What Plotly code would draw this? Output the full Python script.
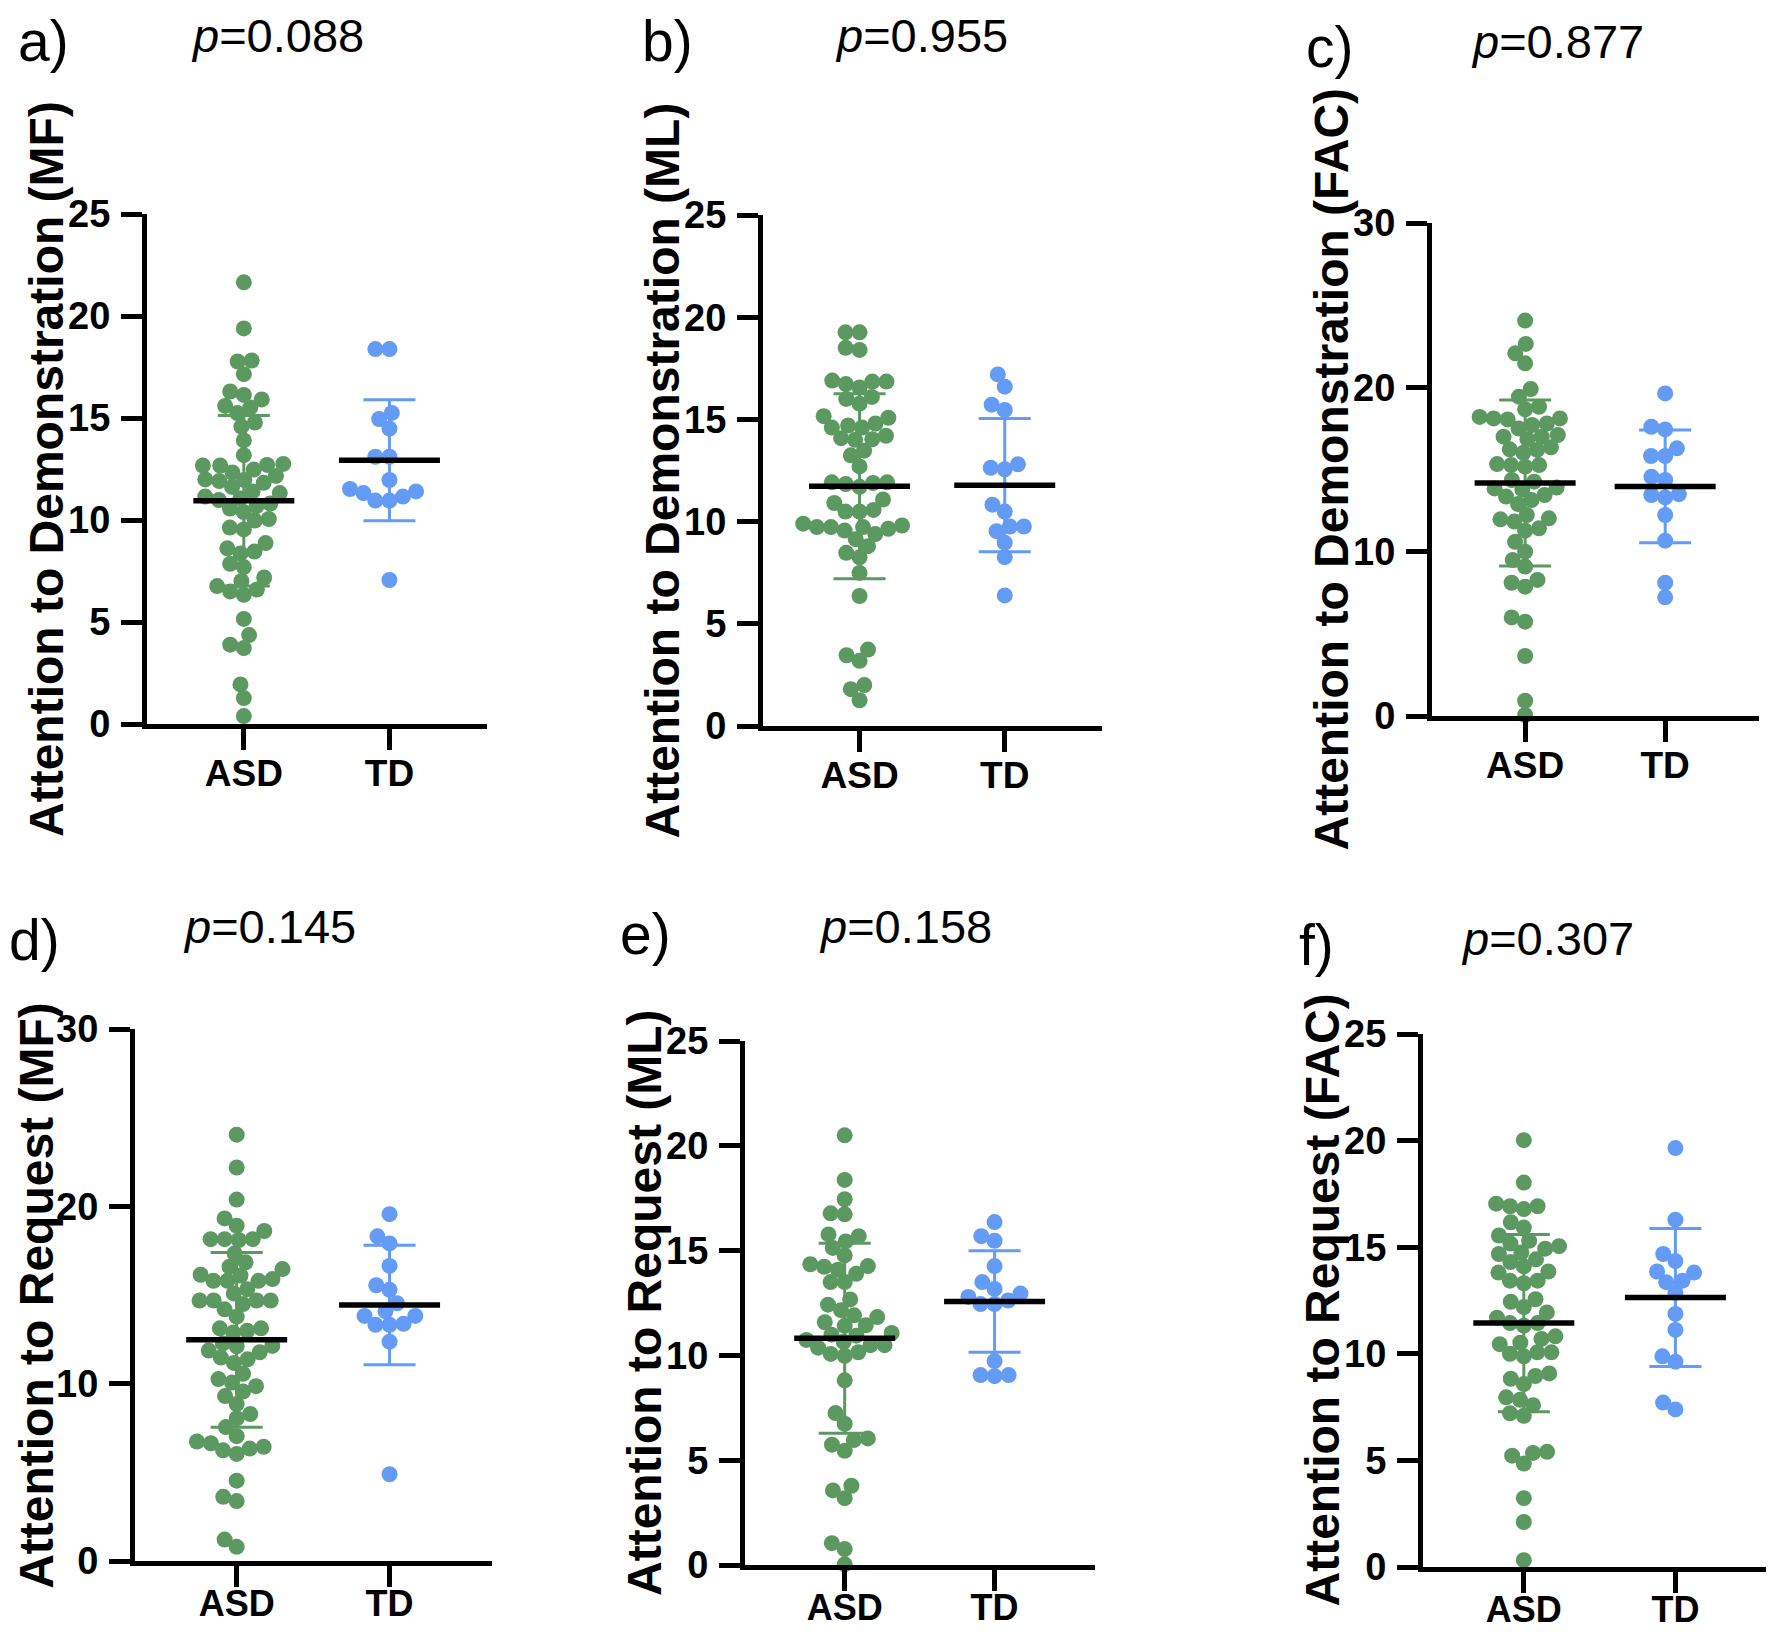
import math
import plotly.graph_objects as go

# ---------------- data ----------------
groups = ["ASD", "TD"]

a_ASD = [21.65, 19.39, 17.82, 17.77, 17.15, 16.3, 16.13, 15.91, 15.59, 15.51, 15.24, 14.78, 14.58,
         13.9, 13.18, 12.75, 12.67, 12.7, 12.67, 12.47, 12.33, 12.16, 11.96, 11.91, 11.99, 11.82,
         11.62, 11.4, 11.32, 11.15, 11.06, 10.98, 10.81, 10.68, 10.56, 10.39, 10.05, 9.97, 9.63,
         9.54, 8.87, 8.61, 8.45, 8.36, 7.85, 7.69, 7.18, 7.01, 6.76, 6.59, 6.5, 6.33, 5.15, 4.36,
         3.89, 3.72, 1.94, 1.27, 0.39]
a_TD = [18.38, 18.38, 15.25, 14.95, 14.48, 13.1, 13.1, 11.96, 11.52, 11.32, 11.4, 11.15, 10.95,
        10.95, 7.06]

b_ASD = [19.26, 19.26, 18.5, 18.4, 16.9, 16.85, 16.73, 16.85, 16.56, 16.1, 16.0, 15.77, 15.16,
         15.08, 14.8, 14.7, 14.6, 14.2, 14.6, 14.03, 14.0, 14.08, 13.47, 13.24, 12.7, 11.92, 11.89,
         11.84, 11.92, 11.7, 11.08, 10.91, 10.57, 10.49, 10.49, 9.73, 9.65, 9.9, 9.73, 9.56, 9.73,
         9.81, 9.14, 9.39, 8.8, 8.47, 8.25, 7.49, 6.36, 3.74, 3.46, 3.19, 2.0, 1.8, 1.26]
b_TD = [17.2, 16.6, 15.72, 15.46, 12.63, 12.56, 12.8, 10.83, 10.49, 9.76, 9.76, 9.53, 8.97, 8.26,
        6.39]

c_ASD = [24.06, 22.64, 22.07, 21.46, 19.9, 19.43, 18.82, 18.66, 18.11, 17.71, 18.05, 18.11, 18.2,
         17.8, 17.5, 17.1, 17.0, 16.84, 17.0, 16.35, 16.23, 16.19, 16.02, 15.33, 15.27, 15.17,
         15.27, 14.36, 14.26, 13.85, 13.79, 13.9, 13.45, 13.35, 13.14, 12.9, 12.23, 12.03, 11.97,
         11.83, 11.42, 11.28, 10.6, 10.0, 9.49, 9.09, 8.28, 8.11, 7.87, 6.0, 5.74, 3.65, 0.93, 0.06]
c_TD = [19.63, 17.6, 17.44, 16.29, 15.82, 15.82, 14.56, 14.36, 13.3, 13.45, 13.5, 12.23, 10.67,
        8.11, 7.22]

d_ASD = [24.04, 22.19, 20.38, 19.32, 18.91, 18.61, 18.15, 18.15, 18.15, 18.1, 17.34, 16.84, 16.6,
         16.46, 15.9, 15.8, 16.1, 16.14, 15.8, 15.8, 15.33, 15.09, 14.69, 14.69, 14.69, 14.49,
         14.69, 14.19, 13.78, 13.12, 13.12, 12.88, 12.98, 12.27, 12.11, 12.13, 11.87, 11.77, 11.47,
         11.37, 11.17, 10.56, 10.26, 10.06, 9.86, 9.56, 9.3, 8.85, 8.29, 8.05, 7.55, 7.04, 6.74,
         6.64, 6.44, 6.34, 6.24, 6.04, 4.53, 3.62, 3.38, 1.21, 0.8]
d_TD = [19.56, 18.31, 17.91, 16.64, 15.55, 15.29, 14.53, 14.08, 13.82, 13.82, 13.38, 13.32, 13.32,
        12.37, 4.89]

e_ASD = [20.5, 18.37, 17.45, 16.73, 16.78, 15.77, 15.69, 15.44, 15.13, 14.77, 14.26, 14.35, 14.23,
         14.09, 13.89, 13.5, 13.5, 12.67, 12.42, 12.16, 11.83, 11.91, 11.58, 11.41, 11.44, 10.94,
         10.74, 11.07, 10.99, 10.65, 10.49, 10.49, 10.37, 10.15, 10.07, 9.98, 8.81, 7.25, 6.74,
         6.04, 5.96, 5.74, 5.45, 3.78, 3.56, 3.19, 1.04, 0.76, 0.03]
e_TD = [16.36, 15.69, 15.47, 14.26, 13.5, 13.17, 12.95, 12.79, 12.45, 12.45, 12.62, 9.73, 9.06,
        9.06, 9.01]

f_ASD = [20.02, 18.03, 17.04, 16.92, 16.79, 16.92, 16.17, 15.92, 15.55, 15.3, 15.17, 15.05, 14.93,
         14.68, 14.75, 14.43, 14.3, 14.1, 13.86, 13.81, 13.43, 13.31, 13.43, 12.56, 12.44, 12.19,
         11.94, 11.69, 11.44, 11.44, 11.32, 10.82, 10.7, 10.52, 10.45, 10.07, 10.0, 9.88, 10.07,
         9.08, 8.96, 8.83, 8.58, 7.96, 7.84, 7.59, 7.21, 7.09, 5.22, 4.85, 5.35, 5.4, 3.23, 2.11,
         0.32]
f_TD = [19.65, 16.29, 14.68, 14.35, 13.86, 13.81, 13.43, 13.36, 12.86, 11.87, 11.12, 9.88, 9.63,
        7.71, 7.39]

# group mean and SD shown by the bars [ASD, TD]
a_mean = [10.94, 12.93]; a_sd = [4.18, 2.97]
b_mean = [11.73, 11.78]; b_sd = [4.53, 3.26]
c_mean = [14.18, 13.97]; c_sd = [5.05, 3.43]
d_mean = [12.47, 14.44]; d_sd = [4.93, 3.37]
e_mean = [10.82, 12.57]; e_sd = [4.53, 2.42]
f_mean = [11.44, 12.64]; f_sd = [4.16, 3.24]

panel_letters = ["a)", "b)", "c)", "d)", "e)", "f)"]
p_values = ["0.088", "0.955", "0.877", "0.145", "0.158", "0.307"]
y_titles = ["Attention to Demonstration (MF)", "Attention to Demonstration (ML)",
            "Attention to Demonstration (FAC)", "Attention to Request (MF)",
            "Attention to Request (ML)", "Attention to Request (FAC)"]
y_max = [25, 25, 30, 30, 25, 25]
y_step = [5, 5, 10, 10, 5, 5]

datasets = [(a_ASD, a_TD, a_mean, a_sd), (b_ASD, b_TD, b_mean, b_sd), (c_ASD, c_TD, c_mean, c_sd),
            (d_ASD, d_TD, d_mean, d_sd), (e_ASD, e_TD, e_mean, e_sd), (f_ASD, f_TD, f_mean, f_sd)]

# ---------------- layout geometry (page pixels) ----------------
W, H = 1774, 1632
OFFX, OFFY = 3, 8  # where the figure sits on the photographed page
# (x_left, x_right, y_top(max), y_bottom(0))
boxes = [(142, 482, 214, 724), (758, 1097, 215, 726), (1427, 1754, 223, 716),
         (130, 487, 1029, 1561), (740, 1090, 1041, 1565), (1418, 1772, 1034, 1567)]
# label placement: (letter_x, letter_y, letter_anchor, p_x, p_y, p_anchor)
labels_pos = [(12, 8, "top", 185, 8, "top"), (636, 8, "top", 829, 8, "top"),
              (1300, 14, "top", 1465, 14, "top"),
              (3, 940, "middle", 177, 926, "middle"), (614, 934, "middle", 813, 926, "middle"),
              (1293, 945, "middle", 1455, 938, "middle")]
XR = [-0.665, 1.67]
GREEN = "#5C9961"
BLUE = "#639BF5"
colors = [GREEN, BLUE]
DOT = 16
FONT = "Liberation Sans, Arial, Helvetica, sans-serif"
TITLE_SIZE = 48


def swarm(values, px_per_y, d):
    order = sorted(range(len(values)), key=lambda k: values[k])
    placed = []
    xs = [0.0] * len(values)
    for i in order:
        y = values[i] * px_per_y
        intervals = []
        for (xj, yj) in placed:
            dy = abs(y - yj)
            if dy < d:
                dx = math.sqrt(d * d - dy * dy)
                intervals.append((xj - dx, xj + dx))
        cands = [0.0] + [a for a, _ in intervals] + [b for _, b in intervals]
        cands.sort(key=lambda c: (abs(c), c))
        chosen = 0.0
        for c in cands:
            if not any(a + 1e-6 < c < b - 1e-6 for a, b in intervals):
                chosen = c
                break
        xs[i] = chosen
        placed.append((chosen, y))
    return xs


def px(x):
    return (x - OFFX) / W


def py(y):
    return 1 - (y - OFFY) / H


fig = go.Figure()
annotations = []

for k, (asd, td, means, sds) in enumerate(datasets):
    xl, xr, yt, yb = boxes[k]
    n = "" if k == 0 else str(k + 1)
    xa, ya = "x" + n, "y" + n
    unit_x = (xr - xl) / (XR[1] - XR[0])
    unit_y = (yb - yt) / y_max[k]

    for g, vals in enumerate([asd, td]):
        offs = swarm(vals, unit_y, DOT * 0.88)
        fig.add_trace(go.Scatter(
            x=[g + o / unit_x for o in offs], y=vals, mode="markers",
            marker=dict(size=DOT, color=colors[g], line=dict(width=0)),
            xaxis=xa, yaxis=ya, cliponaxis=False, hoverinfo="skip"))
    for g in range(2):
        # SD error bar
        fig.add_trace(go.Scatter(
            x=[g], y=[means[g]], mode="markers", marker=dict(size=0.1, color=colors[g], opacity=0),
            error_y=dict(type="data", array=[sds[g]], symmetric=True, color=colors[g],
                         thickness=3, width=26),
            xaxis=xa, yaxis=ya, cliponaxis=False, hoverinfo="skip"))
        # mean line
        half = 50.5 / unit_x
        fig.add_trace(go.Scatter(
            x=[g - half, g + half], y=[means[g], means[g]], mode="lines",
            line=dict(color="black", width=5.5), xaxis=xa, yaxis=ya,
            cliponaxis=False, hoverinfo="skip"))

    bottom_row = k >= 3
    common = dict(showline=True, linewidth=5, linecolor="black", ticks="outside", ticklen=21,
                  tickwidth=5, tickcolor="black", showgrid=False, zeroline=False,
                  automargin=False, fixedrange=True)
    fig.layout["xaxis" + n] = dict(
        domain=[px(xl), px(xr)], anchor=ya, range=XR, tickmode="array", tickvals=[0, 1],
        ticktext=groups, tickfont=dict(family=FONT, size=36 if bottom_row else 37,
                                       color="black", weight="bold"),
        ticklabelstandoff=-14 if bottom_row else -8, **common)
    fig.layout["yaxis" + n] = dict(
        domain=[py(yb), py(yt)], anchor=xa, range=[0, y_max[k]], tickmode="linear", tick0=0,
        dtick=y_step[k], tickfont=dict(family=FONT, size=38, color="black", weight="bold"),
        ticklabelstandoff=3, **common)

    # keep the rotated title's box inside the figure's left edge
    title_cx = max(xl - 101, OFFX + TITLE_SIZE * 0.57 + 0.5)
    annotations.append(dict(
        text=y_titles[k], x=px(title_cx), y=py((yt + yb) / 2), xref="paper", yref="paper",
        textangle=-90, showarrow=False, xanchor="center", yanchor="middle", borderpad=0,
        font=dict(family=FONT, size=TITLE_SIZE, color="black", weight="bold")))
    lx, ly, lanc, pxx, pyy, panc = labels_pos[k]
    annotations.append(dict(
        text=panel_letters[k], x=px(lx), y=py(ly), xref="paper", yref="paper", showarrow=False,
        xanchor="left", yanchor=lanc, borderpad=0,
        font=dict(family=FONT, size=57, color="black")))
    annotations.append(dict(
        text="<i>p</i>=" + p_values[k], x=px(pxx), y=py(pyy), xref="paper", yref="paper",
        showarrow=False, xanchor="left", yanchor=panc, borderpad=0,
        font=dict(family=FONT, size=47, color="black")))

fig.update_layout(width=W, height=H, margin=dict(l=0, r=0, t=0, b=0, pad=0), showlegend=False,
                  paper_bgcolor="white", plot_bgcolor="white", annotations=annotations)

fig.write_html("out.html")
